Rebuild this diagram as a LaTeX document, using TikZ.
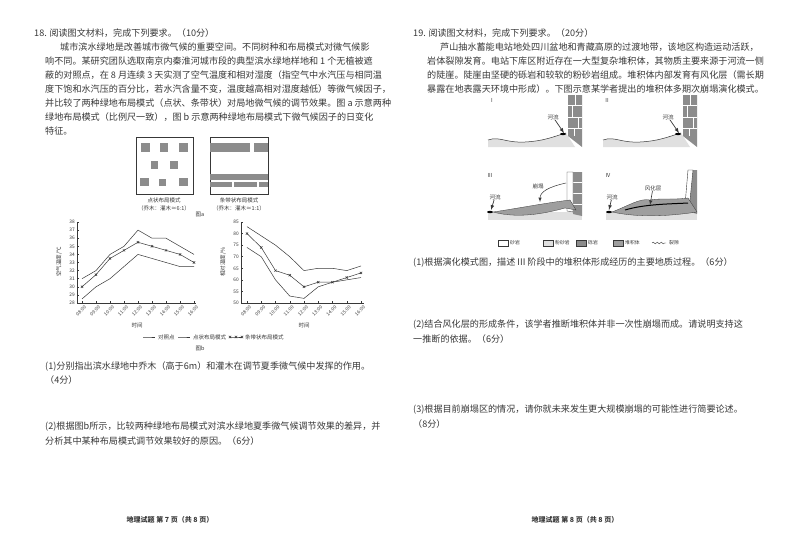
\documentclass[tikz,border=0pt]{standalone}
\usepackage{fontspec}
\setmainfont{Noto Sans CJK SC}
\usetikzlibrary{decorations.pathmorphing}
\definecolor{ink}{gray}{0.22}
\definecolor{fillg}{gray}{0.55}
\definecolor{lightg}{gray}{0.88}
\definecolor{depg}{gray}{0.62}
\begin{document}
\begin{tikzpicture}[x=1pt,y=-1pt,
  txt/.style={anchor=west,inner sep=0pt,text=ink,font=\fontsize{9.1}{10}\selectfont},
  sm/.style={inner sep=0pt,text=ink,font=\fontsize{5.5}{6.5}\selectfont},
  tk/.style={inner sep=0pt,text=ink,font=\fontsize{4.8}{5.5}\selectfont},
  sq/.style={fill=fillg,draw=none},
  ln/.style={draw=ink,line width=0.5pt}]
\fill[white] (0,0) rectangle (800,555);
\useasboundingbox (0,0) rectangle (800,555);
% ---------- left page text
\node[txt] (l0) at (34,33) {18. 阅读图文材料，完成下列要求。（10分）};
\node[txt] (l1) at (60,47) {城市滨水绿地是改善城市微气候的重要空间。不同树种和布局模式对微气候影};
\node[txt] (l2) at (45,61) {响不同。某研究团队选取南京内秦淮河城市段的典型滨水绿地样地和 1 个无植被遮};
\node[txt] (l3) at (45,75) {蔽的对照点，在 8 月连续 3 天实测了空气温度和相对湿度（指空气中水汽压与相同温};
\node[txt] (l4) at (45,89) {度下饱和水汽压的百分比，若水汽含量不变，温度越高相对湿度越低）等微气候因子，};
\node[txt] (l5) at (45,103) {并比较了两种绿地布局模式（点状、条带状）对局地微气候的调节效果。图 a 示意两种};
\node[txt] (l6) at (45,117) {绿地布局模式（比例尺一致），图 b 示意两种绿地布局模式下微气候因子的日变化};
\node[txt] (l7) at (45,131) {特征。};
% figure a
\draw[ink,line width=0.8pt] (136,137) rectangle (193,194);
\draw[ink,line width=0.8pt] (210,137) rectangle (268,194);
\foreach \a/\b/\c/\d in {141/143/150/152,160/143/168/152,179/143/188/152,151/161/158/169,170/161/178/169,140/178/149/186,159/179/166/186,179/178/188/186}
  \fill[sq] (\a,\b) rectangle (\c,\d);
\foreach \a/\b/\c/\d in {210/143/250/152,254/143/268/152,210/174/268/180,210/182/232/187,234/182/257/187,259/182/268/187}
  \fill[sq] (\a,\b) rectangle (\c,\d);
\node[sm] (pa) at (164,200) {点状布局模式};
\node[sm] (pb) at (164,208) {（乔木：灌木≈6:1）};
\node[sm] (pc) at (239,200) {条带状布局模式};
\node[sm] (pd) at (239,208) {（乔木：灌木≈1:1）};
\node[sm] (fa) at (200,215) {图a};
% left chart
\draw[ln] (77,222) -- (77,303) -- (196,303);
\foreach \v in {28,...,38} {\draw[ln] (77,{303-(\v-28)*8.1}) -- (79,{303-(\v-28)*8.1});
  \node[tk,anchor=east] at (75,{303-(\v-28)*8.1}) {\v};}
\foreach \t [count=\i from 0] in {08:00,09:00,10:00,11:00,12:00,13:00,14:00,15:00,16:00} {
  \draw[ln] ({82+\i*14},303) -- ({82+\i*14},301);
  \node[tk,anchor=north east,rotate=45] at ({84+\i*14},305) {\t};
  \draw[ln] ({247+\i*14.25},303) -- ({247+\i*14.25},301);
  \node[tk,anchor=north east,rotate=45] at ({249+\i*14.25},305) {\t};}
\node[sm,rotate=90] (yl) at (59,262) {空气温度/℃};
\node[sm] (xl) at (137,325) {时间};
\draw[ln] plot[mark=square*,mark size=1.2pt] coordinates {(82,{303-3*8.1}) (96,{303-4*8.1}) (110,{303-6*8.1}) (124,{303-7*8.1}) (138,{303-9*8.1}) (152,{303-8*8.1}) (166,{303-8*8.1}) (180,{303-7*8.1}) (194,{303-6*8.1})};
\draw[ln] plot[mark=triangle*,mark size=1.4pt] coordinates {(82,{303-0.5*8.1}) (96,{303-2*8.1}) (110,{303-3*8.1}) (124,{303-4.5*8.1}) (138,{303-6*8.1}) (152,{303-5.5*8.1}) (166,{303-5*8.1}) (180,{303-4.5*8.1}) (194,{303-4.5*8.1})};
\draw[ln] plot[mark=x,mark size=1.6pt] coordinates {(82,{303-2*8.1}) (96,{303-3.5*8.1}) (110,{303-5.5*8.1}) (124,{303-6.5*8.1}) (138,{303-7.5*8.1}) (152,{303-7*8.1}) (166,{303-6.5*8.1}) (180,{303-6*8.1}) (194,{303-5*8.1})};
% right chart
\draw[ln] (241,222) -- (241,303) -- (364,303);
\foreach \v in {50,55,...,85} {\draw[ln] (241,{303-(\v-50)*2.314}) -- (243,{303-(\v-50)*2.314});
  \node[tk,anchor=east] at (239,{303-(\v-50)*2.314}) {\v};}
\node[sm,rotate=90] (yr) at (223,262) {相对湿度/\%};
\node[sm] (xr) at (304,325) {时间};
\def\R#1{303-(#1-50)*2.314}
\draw[ln] plot[mark=square*,mark size=1.2pt] coordinates {(247,{\R{83}}) (261.25,{\R{79}}) (275.5,{\R{75}}) (289.75,{\R{70}}) (304,{\R{64}}) (318.25,{\R{65}}) (332.5,{\R{65}}) (346.75,{\R{64}}) (361,{\R{66}})};
\draw[ln] plot[mark=triangle*,mark size=1.4pt] coordinates {(247,{\R{74}}) (261.25,{\R{70}}) (275.5,{\R{60}}) (289.75,{\R{53}}) (304,{\R{52}}) (318.25,{\R{57}}) (332.5,{\R{59}}) (346.75,{\R{60}}) (361,{\R{61}})};
\draw[ln] plot[mark=x,mark size=1.6pt] coordinates {(247,{\R{80}}) (261.25,{\R{74}}) (275.5,{\R{64}}) (289.75,{\R{62}}) (304,{\R{57}}) (318.25,{\R{59}}) (332.5,{\R{59}}) (346.75,{\R{61}}) (361,{\R{63}})};
% legend
\draw[ln] plot[mark=square*,mark size=1.2pt] coordinates {(143,337) (149,337) (155,337)};
\node[sm,anchor=west] (g1) at (158,337) {对照点};
\draw[ln] plot[mark=triangle*,mark size=1.4pt] coordinates {(178,337) (184,337) (190,337)};
\node[sm,anchor=west] (g2) at (193,337) {点状布局模式};
\draw[ln] plot[mark=x,mark size=1.6pt] coordinates {(230,337) (236,337) (242,337)};
\node[sm,anchor=west] (g3) at (245,337) {条带状布局模式};
\node[sm] (fb) at (200,349) {图b};
% left questions
\node[txt] (q1) at (45,366) {(1)分别指出滨水绿地中乔木（高于6m）和灌木在调节夏季微气候中发挥的作用。};
\node[txt] (q1b) at (45,380) {（4分）};
\node[txt] (q2) at (45,427) {(2)根据图b所示，比较两种绿地布局模式对滨水绿地夏季微气候调节效果的差异，并};
\node[txt] (q2b) at (45,441) {分析其中某种布局模式调节效果较好的原因。（6分）};
\node[inner sep=0pt,text=ink,font=\bfseries\fontsize{7}{8}\selectfont] (f1) at (170,520) {地理试题 第 7 页（共 8 页）};
% ---------- right page text
\node[txt] (r0) at (413,33) {19. 阅读图文材料，完成下列要求。（20分）};
\node[txt] (r1) at (440,47) {芦山抽水蓄能电站地处四川盆地和青藏高原的过渡地带，该地区构造运动活跃，};
\node[txt] (r2) at (427,61) {岩体裂隙发育。电站下库区附近存在一大型复杂堆积体，其物质主要来源于河流一侧};
\node[txt] (r3) at (427,75) {的陡崖。陡崖由坚硬的砾岩和较软的粉砂岩组成。堆积体内部发育有风化层（需长期};
\node[txt] (r4) at (427,89) {暴露在地表露天环境中形成）。下图示意某学者提出的堆积体多期次崩塌演化模式。};
% panels I, II
\foreach \dx/\lab [count=\k] in {0/I,115/II} {
  \begin{scope}[xshift=\dx]
  \fill[lightg] (488,140) .. controls (500,136) and (505,143) .. (525,142) .. controls (545,141) and (555,136) .. (566,133) -- (575,147) -- (488,147) -- cycle;
  \draw[ink,line width=0.5pt] (488,140) .. controls (500,136) and (505,143) .. (525,142) .. controls (545,141) and (555,136) .. (566,133);
  \fill[fillg] (568,95) -- (582,95) -- (582,147) -- (568,136) -- cycle;
  \foreach \yy in {105,117,128} \draw[white,line width=0.6pt] (568,\yy) -- (582,\yy);
  \draw[white,line width=0.4pt] (575,95) -- (575,105) (572,105)--(572,117) (578,117)--(578,128) (574,128)--(574,136);
  \fill[black] (563,134) ellipse (3 and 1.2);
  \node[tk,font=\fontsize{5.5}{6}\selectfont] at (492,100) {\lab};
  \node[tk,font=\fontsize{5.5}{6}\selectfont] (rv\k) at (553,117) {河流};
  \draw[-latex,ink,line width=0.7pt] (rv\k) -- (564,133);
  \end{scope}}
% panel III
\fill[lightg] (488,212) rectangle (582,220);
\fill[fillg] (573,172) -- (582,172) -- (582,216) -- (573,214) -- cycle;
\foreach \yy in {182,193,204} \draw[white,line width=0.6pt] (573,\yy) -- (582,\yy);
\draw[ink,line width=0.4pt,fill=white] (567,172) -- (573,172) -- (573,212) -- (567,211) -- cycle;
\fill[depg,draw=ink,line width=0.3pt] (493,212) .. controls (520,208) and (545,203) .. (570,200) -- (576,210) -- (565,208) .. controls (540,215) and (515,218) .. (493,212) -- cycle;
\fill[black] (490,212) ellipse (3 and 1.2);
\node[tk,font=\fontsize{5.5}{6}\selectfont] at (490,175) {III};
\node[tk,font=\fontsize{5.5}{6}\selectfont] (rv3) at (495,197) {河流};
\draw[-latex,ink,line width=0.7pt] (rv3) -- (491,210);
\node[tk,font=\fontsize{5.5}{6}\selectfont] (bt) at (538,186) {崩塌};
\draw[-latex,ink,line width=0.5pt] (566,183) .. controls (548,187) and (540,192) .. (540,202);
% panel IV
\fill[lightg] (606,212) rectangle (697,220);
\fill[fillg] (690,170) -- (697,170) -- (697,214) -- (685,210) -- cycle;
\draw[ink,line width=0.4pt,fill=white] (688,170) -- (693,170) -- (690,200) -- (685,205) -- cycle;
\fill[depg,draw=ink,line width=0.3pt] (612,212) .. controls (630,205) and (640,198) .. (650,200) .. controls (660,198) and (675,200) .. (688,198) -- (697,212) .. controls (670,216) and (640,218) .. (612,212) -- cycle;
\draw[black,line width=1pt] (625,210) .. controls (645,204) and (670,204) .. (688,203);
\fill[black] (609,212) ellipse (3 and 1.2);
\node[tk,font=\fontsize{5.5}{6}\selectfont] at (608,175) {IV};
\node[tk,font=\fontsize{5.5}{6}\selectfont] (rv4) at (612,197) {河流};
\draw[-latex,ink,line width=0.7pt] (rv4) -- (609,210);
\node[tk,font=\fontsize{5.5}{6}\selectfont] (fh) at (653,188) {风化层};
\draw[-latex,ink,line width=0.6pt] (fh) -- (650,205);
% legend right
\draw[ink,line width=0.4pt,fill=white] (498,240) rectangle (508,246);
\node[tk,anchor=west] (k1) at (510,243) {砂岩};
\draw[ink,line width=0.4pt,fill=lightg] (543,240) rectangle (553,246);
\node[tk,anchor=west] (k2) at (555,243) {粉砂岩};
\draw[ink,line width=0.4pt,fill=fillg] (576,240) rectangle (586,246);
\node[tk,anchor=west] (k3) at (588,243) {砾岩};
\draw[ink,line width=0.4pt,fill=depg] (613,240) rectangle (623,246);
\node[tk,anchor=west] (k4) at (625,243) {堆积体};
\draw[ink,line width=0.4pt,decorate,decoration={snake,amplitude=0.8pt,segment length=4pt}] (652,243) -- (666,243);
\node[tk,anchor=west] (k5) at (669,243) {裂隙};
% right questions
\node[txt] (s1) at (413,262) {(1)根据演化模式图，描述 III 阶段中的堆积体形成经历的主要地质过程。（6分）};
\node[txt] (s2) at (413,325) {(2)结合风化层的形成条件，该学者推断堆积体并非一次性崩塌而成。请说明支持这};
\node[txt] (s2b) at (413,339) {一推断的依据。（6分）};
\node[txt] (s3) at (413,410) {(3)根据目前崩塌区的情况，请你就未来发生更大规模崩塌的可能性进行简要论述。};
\node[txt] (s3b) at (413,424) {（8分）};
\node[inner sep=0pt,text=ink,font=\bfseries\fontsize{7}{8}\selectfont] (f2) at (575,520) {地理试题 第 8 页（共 8 页）};
\end{tikzpicture}
\end{document}
